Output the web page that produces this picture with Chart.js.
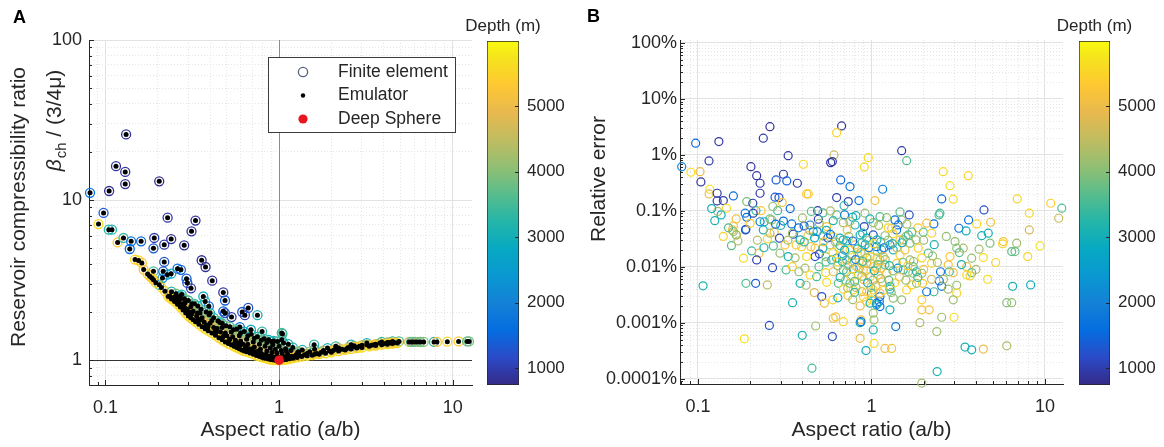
<!DOCTYPE html>
<html><head><meta charset="utf-8">
<script src="https://cdn.jsdelivr.net/npm/chart.js@4.4.1/dist/chart.umd.min.js"></script>
<style>
html,body{margin:0;padding:0;background:#fff;width:1164px;height:447px;overflow:hidden;}
.box{position:absolute;top:0;height:447px;}
canvas{display:block;}
</style></head><body>
<div class="box" style="left:0;width:480px"><canvas id="cA" width="480" height="447"></canvas></div>
<div class="box" style="left:580px;width:490px"><canvas id="cB" width="490" height="447"></canvas></div>
<div class="box" style="left:440px;width:140px"><canvas id="cbA" width="140" height="447"></canvas></div>
<div class="box" style="left:1030px;width:134px"><canvas id="cbB" width="134" height="447"></canvas></div>
<script>
// ---------------- DATA ----------------
// Panel A: [aspect ratio a/b, compressibility ratio, depth m]
const feScatterA = [
[0.1315,25.7,850],[0.115,16.3,900],[0.130,15.0,850],[0.130,12.6,850],[0.204,13.1,800],[0.105,11.4,850],
[0.0815,11.1,1650],[0.0975,8.32,1350],[0.0912,7.08,5600],[0.1045,6.54,3300],[0.109,6.54,3200],[0.1175,5.44,5300],
[0.127,5.80,3400],[0.1406,5.53,1650],[0.138,4.95,1550],[0.1604,5.53,1550],[0.191,5.80,1000],[0.189,5.0,1350],
[0.228,7.77,950],[0.330,7.45,850],[0.313,6.38,900],[0.239,5.71,850],[0.218,5.27,950],[0.284,5.22,850],
[0.218,4.11,1300],[0.358,4.21,850],[0.377,3.82,850],[0.412,3.14,850],[0.260,3.73,1550],[0.272,3.67,1450],
[0.293,3.23,1400],[0.296,3.04,1300],[0.311,2.81,950],[0.215,3.59,1400],[0.227,3.42,2600],[0.239,3.47,2900],
[0.189,3.59,3500],[0.185,3.26,5500],[0.189,3.18,5400],[0.204,2.96,3300],[0.213,3.26,2200],[0.148,4.25,5600],
[0.155,4.20,5500],[0.162,4.05,5300],[0.166,3.68,5200],[0.477,2.65,900],[0.488,2.36,1400],[0.366,2.50,3000],
[0.375,2.33,3100],[0.325,2.25,3300],[0.394,2.17,1450],[0.477,2.02,1400],[0.488,1.97,1350],[0.532,1.86,1000],
[0.613,2.00,1300],[0.635,1.91,950],[0.664,2.12,1200],[0.750,1.91,3100],[0.594,1.61,1550],[0.688,1.55,3000],
[0.798,1.51,3300],[1.045,1.46,3500],[0.456,1.72,3100],[0.400,1.97,3000],[0.339,1.97,2800],[0.903,1.31,2900],
[1.036,1.48,3400],[1.036,1.34,3300],[1.59,1.25,3300],[0.257,2.50,3200],[0.275,2.57,3100],[0.287,2.28,3000],
[0.175,3.45,5500],[0.18,3.35,5400],[0.195,3.05,5500],[0.21,2.85,5600],[0.22,2.70,5500]
];
const feBandLowerA = [
[0.23,2.50,5600],[0.24,2.41,5500],[0.25,2.33,5700],[0.26,2.24,5600],[0.27,2.15,5500],[0.28,2.06,5600],[0.29,1.97,5700],
[0.30,1.89,5500],[0.31,1.84,5600],[0.32,1.79,5500],[0.33,1.74,5700],[0.345,1.68,5600],[0.36,1.62,5500],[0.375,1.57,5600],
[0.39,1.53,5700],[0.41,1.48,5500],[0.43,1.43,5600],[0.45,1.38,5600],[0.47,1.34,5500],[0.49,1.30,5700],[0.51,1.27,5600],
[0.53,1.25,5500],[0.55,1.22,5600],[0.57,1.20,5700],[0.59,1.18,5500],[0.61,1.16,5600],[0.63,1.14,5600],[0.65,1.13,5500],
[0.68,1.11,5700],[0.71,1.09,5600],[0.74,1.07,5500],[0.77,1.055,5600],[0.80,1.04,5700],[0.83,1.03,5500],[0.86,1.02,5600],
[0.89,1.01,5600],[0.92,1.005,5500],[0.95,1.0,5700],[0.98,1.0,5600],[1.02,1.0,5500],[1.06,1.005,5600],[1.1,1.01,5700],
[1.15,1.02,5500],[1.2,1.03,5600],[1.27,1.04,5600],[1.35,1.055,5500],[1.45,1.065,5700],[1.55,1.075,5600],[1.7,1.09,5500],
[1.85,1.105,5600],[2.0,1.12,5700],[2.2,1.14,5500],[2.4,1.16,5600],[2.6,1.175,5600],[2.8,1.19,5500],[3.0,1.20,5700],
[3.3,1.22,5600],[3.6,1.235,5500],[3.9,1.25,5600],[4.2,1.26,5700],[4.5,1.27,5500],[4.8,1.28,5600]
];
const feBandLowMidA = [
[0.245,2.45,5300],[0.275,2.20,5400],[0.305,2.0,5200],[0.34,1.80,5300],[0.38,1.66,5400],[0.43,1.52,5300],[0.48,1.42,5200],
[0.52,1.35,5400],[0.58,1.27,5300],[0.64,1.21,5200],[0.67,1.18,5400],[0.73,1.13,5300],[0.79,1.10,5200],[0.87,1.06,5300],
[0.93,1.04,5400],[1.0,1.04,5200],[1.1,1.04,5300],[1.22,1.05,5400],[1.4,1.08,5200],[1.65,1.10,5300],[2.05,1.15,5400],
[2.45,1.18,5200],[2.9,1.22,5300],[3.5,1.25,5400],[4.4,1.28,5200]
];
const feBandFillA = [
[0.255,2.38,4900],[0.285,2.14,5100],[0.315,1.95,4800],[0.35,1.78,5000],[0.39,1.62,4700],[0.435,1.50,5200],[0.475,1.40,4900],
[0.515,1.33,5000],[0.555,1.28,4800],[0.595,1.24,5100],[0.64,1.19,4900],[0.69,1.15,5000],[0.745,1.11,4800],[0.80,1.08,5100],
[0.86,1.05,4900],[0.93,1.03,5000],[1.0,1.02,4800],[1.07,1.02,5100],[1.14,1.03,4900],
[0.27,2.40,4200],[0.31,2.16,4400],[0.35,1.97,4100],[0.41,1.77,4300],[0.47,1.60,4500],[0.53,1.50,4000],[0.59,1.42,4300],
[0.65,1.35,4200],[0.71,1.30,4400],[0.77,1.26,4100],[0.83,1.22,4300],[0.89,1.19,4000],[0.95,1.17,4400],[1.03,1.15,4200],
[1.1,1.14,4300],[1.3,1.13,4100],[1.5,1.13,4400],[1.8,1.15,4200],[2.2,1.19,4300],[2.7,1.23,4000],[3.2,1.25,4400],[3.8,1.28,4100],[4.3,1.29,4300]
];
const feBandMidA = [
[0.235,2.52,5000],[0.25,2.48,4400],[0.265,2.30,5100],[0.28,2.25,4300],[0.295,2.08,5000],[0.32,2.02,4500],[0.335,1.88,5100],
[0.36,1.84,4400],[0.37,1.73,5000],[0.40,1.70,4300],[0.42,1.60,5100],[0.44,1.58,4500],[0.46,1.50,5000],[0.49,1.48,4300],
[0.50,1.42,5200],[0.54,1.40,4400],[0.56,1.33,5000],[0.60,1.32,4500],[0.62,1.26,5100],[0.66,1.26,4300],[0.70,1.18,5000],
[0.72,1.21,4400],[0.76,1.14,5100],[0.78,1.17,4500],[0.84,1.09,5000],[0.85,1.14,4300],[0.90,1.07,5200],[0.91,1.12,4400],
[0.96,1.05,5000],[0.97,1.11,4500],[1.04,1.10,4300],[1.08,1.05,5100],[1.12,1.09,4400],[1.18,1.06,5000],[1.25,1.08,4500],
[1.3,1.07,5100],[1.45,1.10,4300],[1.6,1.09,5000],[1.75,1.12,4400],[1.95,1.14,5100],[2.1,1.17,4500],[2.3,1.17,5000],
[2.5,1.20,4300],[2.75,1.21,5100],[3.0,1.24,4400],[3.4,1.24,5000],[3.6,1.26,4500],[4.0,1.27,5100],[4.2,1.29,4300],[4.6,1.29,5000]
];
const feBandUpMidA = [
[0.255,2.60,3900],[0.285,2.42,4000],[0.315,2.25,3800],[0.355,2.08,3900],[0.395,1.92,4100],[0.445,1.76,3800],[0.495,1.64,4000],
[0.545,1.55,3900],[0.60,1.48,3800],[0.66,1.42,4000],[0.72,1.37,3900],[0.79,1.33,4100],[0.85,1.29,3800],[0.92,1.25,4000],
[1.0,1.22,3900],[1.09,1.18,3800],[1.17,1.15,4000],[1.28,1.12,3900]
];
const feBandUpperA = [
[0.24,2.68,3200],[0.27,2.52,3000],[0.30,2.36,3300],[0.34,2.18,3100],[0.38,2.0,3400],[0.42,1.84,3000],[0.47,1.70,3200],
[0.52,1.62,3500],[0.57,1.56,3100],[0.63,1.51,3000],[0.69,1.45,3300],[0.75,1.40,3100],[0.82,1.36,3400],[0.87,1.34,3000],
[0.93,1.32,3200],[0.98,1.31,3500],[1.06,1.28,3100],[1.13,1.26,3000],[1.2,1.20,3300],[1.36,1.16,3100],[1.6,1.17,3200],
[1.9,1.19,3000],[2.12,1.22,3400],[2.6,1.25,3100],[3.2,1.28,3000],[3.9,1.30,3300],[4.5,1.31,3200],[4.9,1.31,3600]
];
const feRightA = [
[5.6,1.30,4800],[5.75,1.30,3600],[5.9,1.30,4000],[6.1,1.30,3500],[6.3,1.30,4400],[6.5,1.30,3700],[6.8,1.30,4000],
[7.8,1.30,3300],[8.1,1.30,5200],[9.3,1.305,5600],[10.8,1.31,5300],[12.1,1.31,3600],[12.4,1.31,3900]
];
const deepSphereA = [[1, 1]];
const refLinesA = { x: 1, y: 1 };

// Panel B: [aspect ratio a/b, relative error %, depth m]
const errB1 = [
[0.260,3.20,850],[0.673,3.30,850],[0.630,2.50,5500],[0.097,1.62,1550],[0.132,1.73,900],[0.238,1.99,950],[0.331,0.97,950],
[0.608,1.0,4600],[0.582,0.729,900],[0.595,0.76,950],[0.405,0.682,5600],[0.958,0.895,5600],[0.909,0.61,5600],[0.0806,0.618,1950],
[0.0910,0.491,5700],[0.1028,0.503,5000],[0.1158,0.781,950],[0.202,0.618,900],[0.218,0.427,900],[0.228,0.312,950],[0.311,0.452,950],
[0.282,0.358,1350],[0.325,0.343,1400],[0.374,0.312,950],[0.665,0.358,1450],[0.752,0.272,1650],[0.104,0.330,900],[0.117,0.244,5700],
[0.116,0.201,5000],[0.129,0.207,950],[0.129,0.151,1000],[0.140,0.153,1000],[0.160,0.185,1550],[0.228,0.207,950],[0.278,0.176,1400],
[0.293,0.173,1200],[0.306,0.141,5200],[0.423,0.201,5400],[0.432,0.201,5300],[0.630,0.173,1000],[0.735,0.147,1000],[0.695,0.124,3300],
[0.847,0.153,1750],[1.047,0.153,5100],[0.146,0.112,5600],[0.191,0.147,3900],[0.207,0.137,1000],[0.216,0.101,3400],[0.187,0.091,1850],
[0.191,0.077,1750],[0.231,0.101,5300],[0.136,0.085,3000],[0.125,0.067,3100],[0.166,0.072,5100],[0.160,0.054,5200],[0.158,0.0458,5000],
[0.167,0.0373,5300],[0.156,0.024,3700],[0.189,0.047,1650],[0.228,0.064,1850],[0.260,0.072,3800],[0.288,0.101,3500],[0.238,0.0458,3000],
[0.275,0.0417,5100],[0.295,0.0326,1100],[0.251,0.0316,5500],[0.272,0.0237,3600],[0.297,0.0176,4100],[0.331,0.0153,3000],[0.322,0.00884,3600],
[0.350,0.0101,5400],[0.382,0.0082,4100],[0.183,0.0143,5600],[0.204,0.0193,3400],[0.225,0.0176,5100],[0.218,0.0133,1000],[0.269,0.0097,1100],
[0.311,0.066,1650],[0.347,0.0586,1750],[0.354,0.0384,1100],[0.409,0.054,1100],[0.368,0.0247,5300],[0.396,0.023,5500],[0.448,0.023,5200],
[0.473,0.0216,5200],[0.473,0.0153,1200],[0.490,0.101,1000],[0.494,0.071,1000],[0.552,0.0525,5300],[0.602,0.067,3100],[0.630,0.0848,3700],
[0.688,0.0618,4200],[0.779,0.0772,3000],[0.814,0.0824,3100],[0.909,0.0525,1100],[1.024,0.0618,4100],[0.462,0.0427,2900],[0.487,0.0427,1650],
[0.527,0.0358,3600],[0.602,0.0348,5400],[0.659,0.0326,3000],[0.688,0.0304,3100],[0.719,0.0291,2900],[0.860,0.0373,3000],[0.890,0.040,3200],
[0.938,0.0326,3000],[1.024,0.0373,1200]
];
const errB2 = [
[0.423,0.0153,5600],[0.501,0.0171,1200],[0.545,0.0153,4200],[0.590,0.0133,3000],[0.630,0.0143,3100],[0.679,0.0157,1850],[0.719,0.0133,3500],
[0.833,0.0164,5400],[0.918,0.0176,5600],[0.982,0.0153,5500],[0.822,0.0101,5100],[0.878,0.0116,5000],[1.024,0.0101,5300],[1.071,0.0095,5200],
[0.414,0.0095,4300],[0.498,0.0101,3600],[0.545,0.0079,5500],[0.483,0.0067,3500],[0.552,0.0053,5600],[0.602,0.0082,5000],[0.688,0.00884,3500],
[0.719,0.0082,3600],[0.786,0.0091,3000],[0.644,0.0051,3700],[0.688,0.0040,5600],[0.752,0.0051,3600],[0.786,0.00388,5500],[0.878,0.00362,5000],
[1.0,0.0034,3000],[0.938,0.0024,5600],[1.0,0.00258,5500],[1.071,0.00225,1650],[0.468,0.00348,4800],[0.517,0.00295,1200],[0.535,0.00225,5100],
[0.598,0.00258,5500],[0.860,0.00201,5000],[1.024,0.00149,4200],[0.870,0.00113,5100],[0.602,0.00121,5000],[0.622,0.00128,5200],[0.688,0.00105,5500],
[0.860,0.00101,3000],[1.024,0.00075,3200],[0.860,0.00053,5000],[1.034,0.00043,5600],[0.930,0.00032,3000],[0.595,0.00057,1200],[0.477,0.00088,4200],
[0.399,0.0006,3100],[0.258,0.00090,1200],[0.185,0.00052,5700],[0.107,0.0046,3100],[0.189,0.0051,3600],[0.215,0.0051,1350],[0.251,0.00477,4500],
[0.351,0.0023,3100],[0.388,0.0051,3100],[0.454,0.000155,3500]
];
const errB3 = [
[1.493,1.19,950],[1.595,0.791,3600],[2.59,0.503,5600],[3.61,0.427,5500],[2.835,0.283,5700],[2.96,0.162,5600],[2.54,0.164,1550],
[1.16,0.244,1950],[6.92,0.164,5500],[10.8,0.137,5400],[12.5,0.112,3600],[12.0,0.074,4600],[8.12,0.091,5600],[8.12,0.0458,4700],
[9.36,0.0237,5700],[7.95,0.0153,5500],[5.75,0.0283,5200],[5.7,0.0258,5500],[6.87,0.0265,4200],[6.43,0.0188,3700],[6.72,0.0188,3800],
[4.45,0.104,1200],[4.86,0.0628,5100],[4.04,0.0586,5600],[3.63,0.0691,1600],[3.19,0.049,1750],[3.51,0.044,2900],[4.32,0.0362,3100],
[4.71,0.040,3000],[4.82,0.0265,3900],[4.17,0.0207,4200],[4.41,0.0147,5600],[4.67,0.0060,5700],[3.03,0.0283,4100],[3.10,0.0216,4000],
[3.21,0.018,3700],[3.38,0.0216,4300],[3.78,0.0143,4100],[3.54,0.0101,5000],[3.78,0.0079,3600],[3.54,0.0072,5600],[3.70,0.0069,5500],
[2.835,0.0153,5300],[2.77,0.0109,5100],[2.50,0.0082,1650],[2.81,0.0082,3500],[2.96,0.0079,5100],[2.46,0.0056,1600],[2.54,0.0045,1750],
[2.22,0.006,4700],[2.29,0.0036,3500],[2.08,0.0036,1850],[2.77,0.0040,4200],[3.10,0.0047,4100],[3.10,0.0034,5500],[2.96,0.00258,4200],
[6.51,0.0045,3100],[8.27,0.00477,3000],[6.02,0.0023,4000],[6.43,0.0023,4100],[2.54,0.00126,4200],[2.99,0.00126,5600],[1.90,0.00101,4300],
[1.95,0.00258,5500],[2.15,0.00171,5100],[1.95,0.00171,5200],[2.38,0.0007,4200],[1.38,0.00086,1750],[3.46,0.00037,3100],[3.78,0.00033,3000],
[4.41,0.00034,5000],[6.02,0.00039,4300],[2.39,0.000135,3100],[1.95,0.000084,4200],[1.196,0.00035,5100],[1.307,0.00035,5200],[1.034,0.00113,4200],
[0.870,0.00105,1650],[1.119,0.00295,1550],[1.11,0.0024,1750],[1.278,0.00171,3000],[1.278,0.0045,3000],[1.278,0.0040,3100],[1.493,0.00258,4100],
[1.335,0.00276,4000],[1.595,0.00388,5500],[1.705,0.00477,5400],[1.82,0.0051,4200],[1.97,0.0051,5300],[1.525,0.00884,3000],[1.63,0.0082,4000],
[1.73,0.0077,4100],[1.82,0.0082,3100],[1.95,0.0077,4200],[2.22,0.0116,5600],[2.25,0.0157,4200],[2.125,0.0176,3700],[1.99,0.0417,3600],
[2.22,0.040,5500],[2.29,0.0586,1650],[2.08,0.0603,5100],[2.45,0.0848,3600],[2.48,0.091,3500],[1.65,0.0848,1200],[1.49,0.0691,4200],
[1.366,0.0691,1600],[1.427,0.0562,1650],[1.397,0.0458,1750],[1.223,0.0759,4100],[1.119,0.079,3600],[0.918,0.091,4200],[1.307,0.049,5100],
[1.63,0.0373,3500],[1.525,0.0304,3600],[1.667,0.0265,3700],[1.805,0.0304,4200],[1.86,0.0216,5400],[1.335,0.0201,3000],[1.278,0.0247,1750],
[1.145,0.0201,3100],[1.071,0.023,1750],[1.46,0.0164,5500],[1.667,0.0133,4300],[1.74,0.0101,3700],[1.397,0.0116,5400],[1.17,0.0153,5000],
[1.119,0.0133,4200],[0.938,0.0116,5100],[1.223,0.0077,5100],[1.094,0.0072,5200],[0.982,0.0067,5500],[0.897,0.00884,5200],[1.024,0.00388,5600],
[1.119,0.0034,5100],[0.938,0.0036,5400],[1.071,0.0021,3000],[1.119,0.00196,1650],[0.982,0.00225,3100]
];
const errB4 = [
[0.160,0.0427,4100],[0.166,0.0373,4000],[0.188,0.0458,1100],[0.208,0.091,1000],[0.241,0.064,3000],[0.266,0.0691,4200],
[0.752,0.0201,5600],[0.8045,0.0247,5000],[0.772,0.0123,5200],[0.836,0.0072,5700],[0.905,0.0059,5100],[0.815,0.0043,4300],
[0.732,0.0031,5200],[0.94,0.0145,4100],[1.076,0.0145,5500],[1.196,0.0109,3600],[1.15,0.0054,5000],[1.366,0.0052,5600],
[1.46,0.0304,5200],[1.33,0.039,5500],[1.196,0.036,4100],[1.076,0.0304,3000],[0.967,0.022,1750],[0.882,0.027,3500],
[0.650,0.0216,5100],[0.577,0.0247,4300],[0.641,0.0123,5600],[0.547,0.0123,3700],[0.525,0.0216,3000],[0.430,0.036,5200],
[0.388,0.0304,3100],[0.363,0.0145,4300],[0.442,0.0072,5600],[0.42,0.0047,4200],[0.3175,0.0247,5300],[0.525,0.092,3500],
[0.56,0.033,1200],[0.4425,0.056,1850],[0.8045,0.056,3100],[0.724,0.0458,5100],[1.56,0.0201,5100],[1.95,0.0145,5600],
[1.85,0.05,5400],[1.71,0.042,3600],[1.46,0.096,3700]
];
const errB5 = [
[0.55,0.045,3000],[0.58,0.038,1700],[0.62,0.028,4200],[0.66,0.024,3600],[0.70,0.020,2900],[0.74,0.035,4100],[0.78,0.029,1500],
[0.83,0.021,3200],[0.87,0.018,4300],[0.92,0.025,3000],[0.97,0.030,4000],[1.03,0.026,5600],[1.08,0.019,4200],[1.13,0.028,3500],
[1.18,0.022,1800],[1.25,0.030,4100],[1.32,0.026,3100],[1.40,0.022,4400],[1.50,0.027,2800],[1.58,0.035,4000],[0.60,0.018,5500],
[0.64,0.0105,4100],[0.68,0.0125,3300],[0.73,0.0105,4300],[0.77,0.016,3700],[0.81,0.0135,1900],[0.85,0.0095,4200],[0.89,0.0125,3300],
[0.93,0.0085,5000],[0.99,0.0115,4300],[1.04,0.0085,3000],[1.09,0.011,3800],[1.14,0.0095,5100],[1.20,0.0135,4300],[1.27,0.0105,3200],
[1.33,0.0085,4000],[1.42,0.0095,2200],[1.52,0.012,3800],[1.62,0.0105,5400],[1.75,0.0125,4200],[0.66,0.0065,3100],[0.71,0.0058,4000],
[0.76,0.0068,5500],[0.80,0.0055,3600],[0.88,0.0068,4300],[0.95,0.0052,2900],[1.02,0.0058,4100],[1.06,0.0046,5000],[1.13,0.0062,4300],
[1.26,0.0058,3700],[1.45,0.0066,5100],[1.58,0.0058,4200],[0.73,0.0042,4400],[0.80,0.0035,3300],[0.99,0.0043,4200],[1.17,0.0038,5500],
[1.30,0.0035,4100],[0.64,0.0028,3000],[0.78,0.0026,4200],[0.90,0.0029,5300],[0.35,0.040,4200],[0.38,0.050,1800],[0.41,0.028,3500],
[0.44,0.045,4300],[0.47,0.033,2900],[0.50,0.060,4100],[0.53,0.028,5200],[0.30,0.055,3300],[0.33,0.030,4200],[0.26,0.040,4300],
[0.28,0.058,1600],[0.22,0.030,4400],[0.24,0.022,3100],[0.20,0.060,5400],[0.17,0.029,4300],[0.15,0.05,3600],[0.14,0.035,5500],
[0.13,0.098,4200],[0.12,0.11,3000],[0.27,0.12,4100],[0.34,0.11,1500],[0.40,0.075,4200],[0.45,0.098,3700],[0.58,0.10,4300],
[0.70,0.085,2000],[0.75,0.065,4400],[0.98,0.072,3100],[1.10,0.055,4300],[1.25,0.05,5600],[1.60,0.058,4300],[2.0,0.030,4200],
[2.3,0.025,3100],[2.7,0.035,4100],[2.0,0.009,5200],[2.4,0.012,4300],[1.85,0.0065,3500],[2.6,0.006,4400],[3.3,0.011,3000],
[4.0,0.009,4300],[5.2,0.012,5400]
];

// axes / ticks
const xMajorTicks = [0.1, 1, 10];
const xTickLabels = ['0.1', '1', '10'];
const yMajorTicksA = [1, 10, 100];
const yTickLabelsA = ['1', '10', '100'];
const yMajorTicksB = [0.0001, 0.001, 0.01, 0.1, 1, 10, 100];
const yTickLabelsB = ['0.0001%', '0.001%', '0.01%', '0.1%', '1%', '10%', '100%'];
const depthTicks = [1000, 2000, 3000, 4000, 5000];
const depthRange = [740, 6000];
const xRangeA = [0.0804, 12.9], yRangeA = [0.703, 100];
const xRangeB = [0.0788, 12.7], yRangeB = [0.000081, 113];

// ---------------- STYLE ----------------
const FONT = '"Liberation Sans", Arial, Helvetica, sans-serif';
const INK = '#262626';
Chart.defaults.font.family = FONT;
Chart.defaults.color = INK;
Chart.defaults.animation = false;

const parulaStops = [[0,53,42,135],[0.079,44,74,199],[0.159,4,109,224],[0.238,20,129,214],[0.317,9,152,209],
[0.397,7,169,194],[0.476,37,181,169],[0.556,89,189,140],[0.635,146,191,115],[0.714,192,188,96],
[0.794,233,185,78],[0.873,254,200,50],[0.952,245,228,29],[1,249,251,14]];
function parula(t){
  t = Math.max(0, Math.min(1, t));
  for (let i = 1; i < parulaStops.length; i++){
    const a = parulaStops[i-1], b = parulaStops[i];
    if (t <= b[0]){
      const f = (t - a[0]) / (b[0] - a[0]);
      return 'rgb(' + [1,2,3].map(k => Math.round(a[k] + f*(b[k]-a[k]))).join(',') + ')';
    }
  }
  return 'rgb(249,251,14)';
}
function depthColor(d){ return parula((d - depthRange[0]) / (depthRange[1] - depthRange[0])); }
const near = (v, m) => Math.abs(v/m - 1) < 1e-6;
function labelFor(v, majors, labels){ const i = majors.findIndex(m => near(v, m)); return i >= 0 ? labels[i] : ''; }
function logTicks(min, max){
  const out = [];
  const e0 = Math.floor(Math.log10(min)), e1 = Math.ceil(Math.log10(max));
  for (let e = e0; e <= e1; e++) for (let m = 1; m <= 9; m++){
    const v = parseFloat((m * Math.pow(10, e)).toPrecision(6));
    if (v >= min && v <= max) out.push({value: v, major: m === 1});
  }
  return out;
}
const gridOpts = {
  drawTicks: false, lineWidth: 1,
  color: c => !c.tick ? 'rgba(0,0,0,0)' : (c.tick.major ? '#e2e2e2' : '#e6e6e6')
};
const borderOpts = { display: true, color: INK, width: 1, dash: c => (c.tick && !c.tick.major) ? [1, 2] : [] };

function inwardTicks(chart){
  const {ctx, chartArea: ca, scales: {x, y}} = chart;
  ctx.save(); ctx.strokeStyle = INK; ctx.lineWidth = 1; ctx.beginPath();
  x.ticks.forEach(t => { const p = Math.round(x.getPixelForValue(t.value)) + 0.5; ctx.moveTo(p, ca.bottom); ctx.lineTo(p, ca.bottom - (t.major ? 5 : 3)); });
  y.ticks.forEach(t => { const p = Math.round(y.getPixelForValue(t.value)) + 0.5; ctx.moveTo(ca.left, p); ctx.lineTo(ca.left + (t.major ? 5 : 3), p); });
  ctx.stroke(); ctx.restore();
}
function rotText(ctx, text, x, y, font){
  ctx.save(); ctx.translate(x, y); ctx.rotate(-Math.PI/2);
  ctx.font = font; ctx.textAlign = 'center'; ctx.textBaseline = 'alphabetic'; ctx.fillStyle = INK;
  ctx.fillText(text, 0, 0); ctx.restore();
}
const toXY = arr => arr.map(p => ({x: p[0], y: p[1]}));

// ---------------- PANEL A ----------------
const allA = feScatterA.concat(feBandUpperA, feBandUpMidA, feBandFillA, feBandMidA, feBandLowMidA, feBandLowerA, feRightA);
const overlayA = {
  id: 'overlayA',
  beforeDatasetsDraw(chart){
    const {ctx, chartArea: ca, scales: {x, y}} = chart;
    ctx.save(); ctx.setLineDash([]); ctx.lineWidth = 1;
    const px = Math.round(x.getPixelForValue(refLinesA.x)) + 0.5;
    ctx.strokeStyle = '#8c8c8c'; ctx.beginPath(); ctx.moveTo(px, ca.top); ctx.lineTo(px, ca.bottom); ctx.stroke();
    const py = Math.round(y.getPixelForValue(refLinesA.y)) + 0.5;
    ctx.strokeStyle = '#333333'; ctx.beginPath(); ctx.moveTo(ca.left, py); ctx.lineTo(ca.right, py); ctx.stroke();
    ctx.restore();
    inwardTicks(chart);
  },
  afterDraw(chart){
    const ctx = chart.ctx;
    ctx.save();
    ctx.fillStyle = '#000'; ctx.font = 'bold 18px ' + FONT; ctx.textBaseline = 'alphabetic'; ctx.textAlign = 'left';
    ctx.fillText('A', 13, 23);
    rotText(ctx, 'Reservoir compressibility ratio', 25, 207, '21px ' + FONT);
    ctx.translate(61, 121); ctx.rotate(-Math.PI/2); ctx.fillStyle = INK; ctx.textBaseline = 'alphabetic'; ctx.textAlign = 'left';
    const fB = 'italic 21px ' + FONT, fS = '15px ' + FONT, fN = '21px ' + FONT;
    ctx.font = fB; const w1 = ctx.measureText('\u03B2').width;
    ctx.font = fS; const w2 = ctx.measureText('ch').width;
    ctx.font = fN; const w3 = ctx.measureText(' / (3/4\u03BC)').width;
    let x0 = -(w1 + w2 + w3) / 2;
    ctx.font = fB; ctx.fillText('\u03B2', x0, 0); x0 += w1 + 1;
    ctx.font = fS; ctx.fillText('ch', x0, 5); x0 += w2;
    ctx.font = fN; ctx.fillText(' / (3/4\u03BC)', x0, 0);
    ctx.restore();
    // legend
    ctx.save();
    ctx.fillStyle = '#fff'; ctx.fillRect(268.5, 57.5, 187, 75);
    ctx.strokeStyle = '#3c3c3c'; ctx.lineWidth = 1; ctx.strokeRect(268.5, 57.5, 187, 75);
    const rows = [
      {label: chart.data.datasets[2].label, y: 72},
      {label: chart.data.datasets[1].label, y: 95.5},
      {label: chart.data.datasets[0].label, y: 119}
    ];
    ctx.beginPath(); ctx.arc(303, rows[0].y, 4.6, 0, Math.PI*2); ctx.strokeStyle = '#56627f'; ctx.lineWidth = 1.3; ctx.stroke();
    ctx.beginPath(); ctx.arc(303, rows[1].y, 2.2, 0, Math.PI*2); ctx.fillStyle = '#000'; ctx.fill();
    ctx.beginPath(); ctx.arc(303, rows[2].y, 4.6, 0, Math.PI*2); ctx.fillStyle = '#e8161f'; ctx.fill();
    ctx.fillStyle = INK; ctx.font = '17.5px ' + FONT; ctx.textBaseline = 'middle'; ctx.textAlign = 'left';
    rows.forEach(r => ctx.fillText(r.label, 338, r.y));
    ctx.restore();
  }
};
new Chart(document.getElementById('cA'), {
  type: 'scatter',
  data: { datasets: [
    { label: 'Deep Sphere', data: toXY(deepSphereA), pointRadius: 4.8, pointBackgroundColor: '#e8161f', pointBorderWidth: 0, order: 0, clip: false },
    { label: 'Emulator', data: toXY(allA), pointRadius: 2.5, pointBackgroundColor: '#000', pointBorderWidth: 0, order: 1, clip: false },
    { label: 'Finite element', data: toXY(allA), pointRadius: 4.5, pointBackgroundColor: 'rgba(0,0,0,0)',
      pointBorderColor: allA.map(p => depthColor(p[2])), pointBorderWidth: 1.3, order: 2, clip: false }
  ]},
  options: {
    responsive: false, animation: false, events: [],
    layout: { padding: { top: 40, right: 8, left: 0, bottom: 0 } },
    plugins: { legend: { display: false }, tooltip: { enabled: false } },
    scales: {
      x: { type: 'logarithmic', position: 'bottom', min: xRangeA[0], max: xRangeA[1],
        afterFit: s => { s.height = 62; }, afterBuildTicks: s => { s.ticks = logTicks(xRangeA[0], xRangeA[1]); },
        ticks: { autoSkip: false, maxRotation: 0, minRotation: 0, padding: 12, font: { size: 18 }, color: INK,
          callback: v => labelFor(v, xMajorTicks, xTickLabels) },
        grid: gridOpts, border: borderOpts,
        title: { display: true, text: 'Aspect ratio (a/b)', font: { size: 21 }, color: INK, padding: { top: 0, bottom: 4 } } },
      y: { type: 'logarithmic', position: 'left', min: yRangeA[0], max: yRangeA[1],
        afterFit: s => { s.width = 89; }, afterBuildTicks: s => { s.ticks = logTicks(yRangeA[0], yRangeA[1]); },
        ticks: { autoSkip: false, padding: 7, font: { size: 18 }, color: INK,
          callback: v => labelFor(v, yMajorTicksA, yTickLabelsA) },
        grid: gridOpts, border: borderOpts }
    }
  },
  plugins: [overlayA]
});

// ---------------- PANEL B ----------------
const allB = errB1.concat(errB2, errB3, errB4, errB5);
const overlayB = {
  id: 'overlayB',
  beforeDatasetsDraw(chart){ inwardTicks(chart); },
  afterDraw(chart){
    const ctx = chart.ctx;
    ctx.save();
    ctx.fillStyle = '#000'; ctx.font = 'bold 18px ' + FONT; ctx.textBaseline = 'alphabetic'; ctx.textAlign = 'left';
    ctx.fillText('B', 7, 22);
    ctx.restore();
    rotText(ctx, 'Relative error', 25, 179, '21px ' + FONT);
  }
};
new Chart(document.getElementById('cB'), {
  type: 'scatter',
  data: { datasets: [
    { label: 'Relative error', data: toXY(allB), pointRadius: 4, pointBackgroundColor: 'rgba(0,0,0,0)',
      pointBorderColor: allB.map(p => depthColor(p[2])), pointBorderWidth: 1.2, clip: false }
  ]},
  options: {
    responsive: false, animation: false, events: [],
    layout: { padding: { top: 40, right: 7, left: 0, bottom: 0 } },
    plugins: { legend: { display: false }, tooltip: { enabled: false } },
    scales: {
      x: { type: 'logarithmic', position: 'bottom', min: xRangeB[0], max: xRangeB[1],
        afterFit: s => { s.height = 63; }, afterBuildTicks: s => { s.ticks = logTicks(xRangeB[0], xRangeB[1]); },
        ticks: { autoSkip: false, maxRotation: 0, minRotation: 0, padding: 12, font: { size: 18 }, color: INK,
          callback: v => labelFor(v, xMajorTicks, xTickLabels) },
        grid: gridOpts, border: borderOpts,
        title: { display: true, text: 'Aspect ratio (a/b)', font: { size: 21 }, color: INK, padding: { top: 0, bottom: 4 } } },
      y: { type: 'logarithmic', position: 'left', min: yRangeB[0], max: yRangeB[1],
        afterFit: s => { s.width = 100; }, afterBuildTicks: s => { s.ticks = logTicks(yRangeB[0], yRangeB[1]); },
        ticks: { autoSkip: false, padding: 3, font: { size: 18 }, color: INK,
          callback: v => labelFor(v, yMajorTicksB, yTickLabelsB) },
        grid: gridOpts, border: borderOpts }
    }
  },
  plugins: [overlayB]
});

// ---------------- COLORBARS ----------------
function parulaGradient(chart){
  const y = chart.scales.y;
  if (!y) return '#888';
  const y0 = y.getPixelForValue(depthRange[0]), y1 = y.getPixelForValue(depthRange[1]);
  if (!isFinite(y0) || !isFinite(y1) || y0 === y1) return '#888';
  const g = chart.ctx.createLinearGradient(0, y0, 0, y1);
  parulaStops.forEach(s => g.addColorStop(s[0], 'rgb(' + s[1] + ',' + s[2] + ',' + s[3] + ')'));
  return g;
}
const cbOverlay = {
  id: 'cbOverlay',
  afterDraw(chart){
    const {ctx, chartArea: ca, scales: {y}} = chart;
    ctx.save();
    ctx.fillStyle = INK; ctx.font = '17px ' + FONT; ctx.textAlign = 'center'; ctx.textBaseline = 'alphabetic';
    ctx.fillText('Depth (m)', (ca.left + ca.right) / 2, 31);
    ctx.strokeStyle = INK; ctx.lineWidth = 1; ctx.beginPath();
    y.ticks.forEach(t => { const p = Math.round(y.getPixelForValue(t.value)) + 0.5; ctx.moveTo(ca.right, p); ctx.lineTo(ca.right - 4, p); });
    ctx.stroke(); ctx.restore();
  }
};
function colorbar(id, padLeft, axisWidth){
  new Chart(document.getElementById(id), {
    type: 'bar',
    data: { labels: [''], datasets: [{ data: [[depthRange[0], depthRange[1]]], backgroundColor: c => parulaGradient(c.chart),
      borderColor: INK, borderWidth: 1, borderSkipped: false, barPercentage: 1, categoryPercentage: 1 }] },
    options: {
      responsive: false, animation: false, events: [],
      layout: { padding: { left: padLeft, right: 0, top: 41, bottom: 62 } },
      plugins: { legend: { display: false }, tooltip: { enabled: false } },
      scales: {
        x: { display: false },
        y: { position: 'right', min: depthRange[0], max: depthRange[1],
          afterFit: s => { s.width = axisWidth; }, afterBuildTicks: s => { s.ticks = depthTicks.map(v => ({value: v})); },
          ticks: { padding: 8, font: { size: 17 }, color: INK, callback: v => String(v) },
          grid: { display: false, drawTicks: false }, border: { display: false } }
      }
    },
    plugins: [cbOverlay]
  });
}
colorbar('cbA', 47, 61);
colorbar('cbB', 49, 54);
</script>
</body></html>
